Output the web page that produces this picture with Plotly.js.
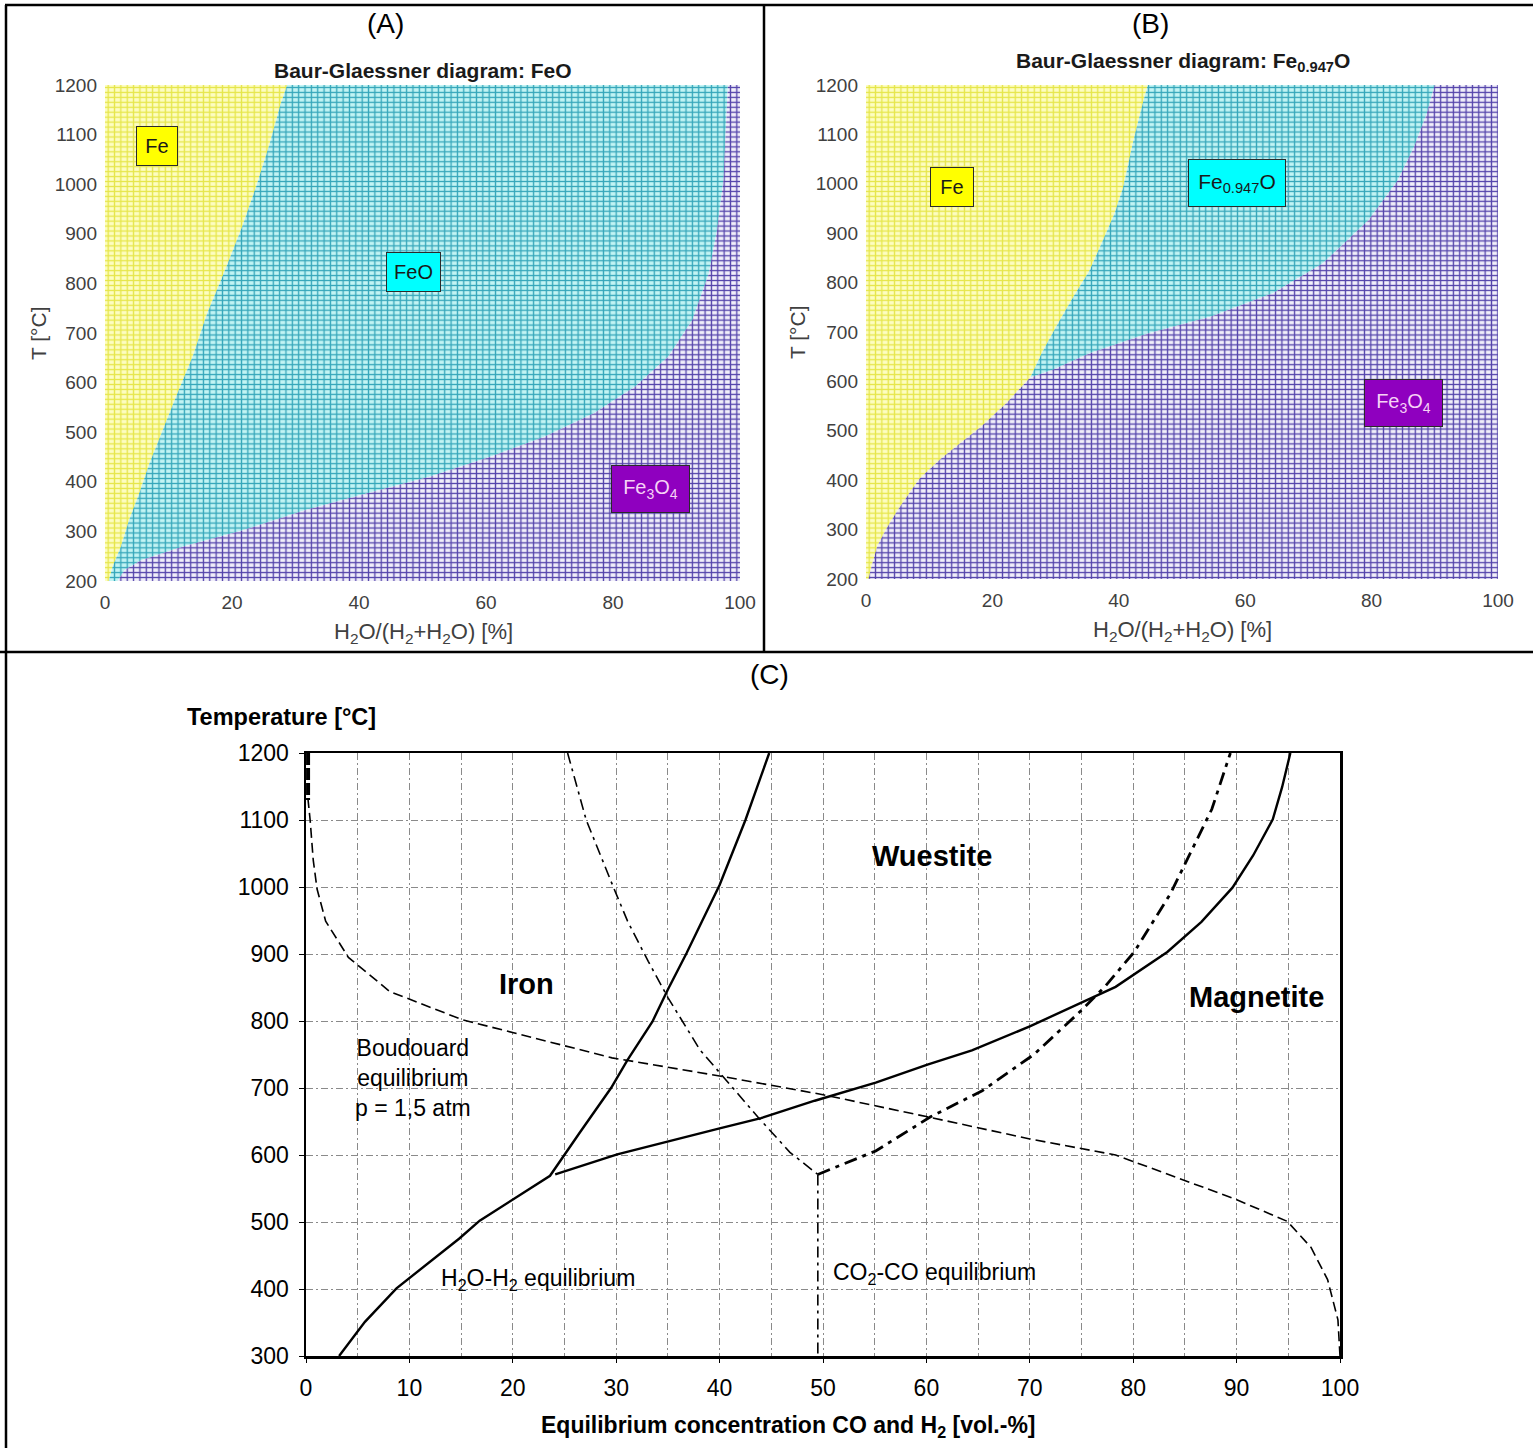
<!DOCTYPE html>
<html>
<head>
<meta charset="utf-8">
<script src="https://cdn.plot.ly/plotly-3.0.1.min.js"></script>
<style>html,body{margin:0;padding:0;background:#fff;}#chart{width:1533px;height:1448px;}</style>
</head>
<body>
<div id="chart"></div>
<script>
// ---------------- DATA ----------------
// Panel A: Baur-Glaessner diagram FeO  (x = H2O/(H2+H2O) %, y = T °C)
const A_FeFeO_x = [0.6, 1.2, 2.5, 3.8, 5.4, 7.0, 8.9, 11.2, 13.8, 16.1, 18.7, 21.6, 23.8, 25.8, 27.7, 28.7];
const A_FeFeO_T = [200, 229, 269, 323, 377, 437, 498, 572, 652, 740, 820, 914, 995, 1076, 1163, 1200];
const A_FeOMag_x = [2.0, 3.1, 5.7, 12.2, 21.9, 31.6, 41.3, 51.1, 60.8, 69.2, 77.0, 83.5, 88.7, 92.5, 95.1, 96.4, 97.4, 98.1];
const A_FeOMag_T = [200, 222, 242, 269, 303, 343, 377, 410, 451, 491, 538, 592, 652, 726, 820, 908, 1008, 1200];

// Panel B: Baur-Glaessner diagram Fe0.947O
const B_FeMag_x = [0.4, 0.9, 1.8, 3.2, 5.1, 8.4, 11.7, 15.0, 18.3, 22.2, 26.0];
const B_FeMag_T = [200, 227, 267, 301, 341, 402, 442, 476, 509, 556, 608];
const B_FeW_x = [26.0, 27.8, 30.1, 32.8, 35.4, 37.7, 39.3, 40.7, 42.3, 43.9, 44.6];
const B_FeW_T = [608, 657, 711, 771, 825, 892, 939, 993, 1087, 1168, 1200];
const B_WMag_x = [26.0, 29.5, 35.4, 44.6, 54.5, 64.3, 72.2, 79.5, 84.1, 86.7, 88.7, 90.0];
const B_WMag_T = [608, 623, 657, 697, 731, 778, 838, 926, 1006, 1074, 1141, 1200];

// Panel C: equilibrium curves (x = CO / H2 vol.-%, y = T °C)
const H2_FeWue_x = [3.2, 5.7, 8.75, 14.8, 16.8, 20.1, 23.6, 26.5, 29.5, 31.1, 33.5, 35.0, 36.8, 40.0, 42.5, 44.8];
const H2_FeWue_T = [300, 351, 401, 475, 502, 535, 569, 634, 700, 742, 799, 847, 901, 1003, 1100, 1200];
const H2_WueMag_x = [24.1, 30.1, 40.1, 44.0, 49.2, 55.1, 60.1, 64.4, 70.0, 75.0, 78.3, 83.3, 86.6, 89.6, 91.6, 93.5, 94.4, 95.2];
const H2_WueMag_T = [571, 601, 640, 655, 681, 708, 735, 756, 792, 828, 851, 903, 948, 999, 1047, 1101, 1149, 1200];
const CO_FeWue_x = [25.3, 27.1, 29.8, 31.1, 33.1, 35.0, 38.1, 40.3, 43.8, 46.8, 49.5];
const CO_FeWue_T = [1200, 1100, 997, 949, 889, 835, 757, 718, 655, 604, 571];
const CO_FeMag_x = [49.5, 49.5];
const CO_FeMag_T = [571, 300];
const CO_WueMag_x = [49.5, 55.1, 60.4, 65.4, 70.4, 75.0, 77.3, 80.1, 83.6, 85.6, 87.6, 89.4];
const CO_WueMag_T = [571, 606, 657, 696, 750, 816, 852, 903, 990, 1053, 1116, 1200];
const Boud_x = [0.2, 0.2, 0.4, 0.7, 1.07, 1.9, 4.1, 8.1, 15.1, 25.1, 29.6, 40.0, 50.0, 60.1, 70.0, 78.3, 89.9, 94.9, 97.2, 98.8, 99.8, 100];
const Boud_T = [1200, 1130, 1100, 1040, 997, 949, 895, 844, 802, 763, 745, 718, 690, 657, 624, 600, 534, 501, 462, 414, 354, 300];

const xTicksAB = [0, 20, 40, 60, 80, 100];
const yTicksAB = [200, 300, 400, 500, 600, 700, 800, 900, 1000, 1100, 1200];

// ---------------- LAYOUT HELPERS ----------------
const W = 1533, H = 1448;
const fx = p => p / W;
const fy = p => 1 - p / H;
const rev = a => a.slice().reverse();
const FONT = 'Arial, "Liberation Sans", sans-serif';

const COLS = {
  fe:  {bg: '#fdfdc2', fg: '#e6e64a'},
  wu:  {bg: '#c2f4f4', fg: '#35a6ba'},
  mag: {bg: '#f1effa', fg: '#5444ab'}
};

function region(xs, ys, col, xa, ya) {
  const base = {x: xs, y: ys, xaxis: xa, yaxis: ya, mode: 'none', fill: 'toself',
    hoverinfo: 'skip', showlegend: false};
  return [
    Object.assign({}, base, {fillpattern: {shape: '|', size: 6.35, solidity: 0.21,
      fgcolor: col.fg, bgcolor: col.bg, fillmode: 'replace'}}),
    Object.assign({}, base, {fillpattern: {shape: '-', size: 4.95, solidity: 0.27,
      fgcolor: col.fg, bgcolor: 'rgba(0,0,0,0)', fillmode: 'replace'}})
  ];
}

const traces = [];
// Panel A regions
traces.push(...region([0].concat(A_FeFeO_x, [0]), [200].concat(A_FeFeO_T, [1200]), COLS.fe, 'x', 'y'));
traces.push(...region(A_FeOMag_x.concat(rev(A_FeFeO_x)), A_FeOMag_T.concat(rev(A_FeFeO_T)), COLS.wu, 'x', 'y'));
traces.push(...region(A_FeOMag_x.concat([100, 100]), A_FeOMag_T.concat([1200, 200]), COLS.mag, 'x', 'y'));
// Panel B regions
traces.push(...region([0].concat(B_FeMag_x, B_FeW_x, [0]), [200].concat(B_FeMag_T, B_FeW_T, [1200]), COLS.fe, 'x2', 'y2'));
traces.push(...region(B_WMag_x.concat(rev(B_FeW_x)), B_WMag_T.concat(rev(B_FeW_T)), COLS.wu, 'x2', 'y2'));
traces.push(...region(B_FeMag_x.concat(B_WMag_x, [100, 100]), B_FeMag_T.concat(B_WMag_T, [1200, 200]), COLS.mag, 'x2', 'y2'));

// Panel C curves
function curve(xs, ys, width, dash) {
  return {x: xs, y: ys, xaxis: 'x3', yaxis: 'y3', mode: 'lines', hoverinfo: 'skip', showlegend: false,
    line: {color: '#000', width: width, dash: dash}};
}
traces.push(curve(Boud_x, Boud_T, 1.6, '10px,5px'));
traces.push(curve(Boud_x.slice(0, 2), Boud_T.slice(0, 2), 4, '12px,3px'));
traces.push(curve(CO_FeWue_x, CO_FeWue_T, 1.6, '11px,5px,3px,5px'));
traces.push(curve(CO_FeMag_x, CO_FeMag_T, 1.6, '11px,5px,3px,5px'));
traces.push(curve(CO_WueMag_x, CO_WueMag_T, 2.8, '13px,6px,4px,6px'));
traces.push(curve(H2_FeWue_x, H2_FeWue_T, 2.4, 'solid'));
traces.push(curve(H2_WueMag_x, H2_WueMag_T, 2.4, 'solid'));

// ---------------- AXES ----------------
const abX = (dom) => ({domain: dom, range: [0, 100], tickvals: xTicksAB, showgrid: false, zeroline: false,
  showline: false, ticks: '', tickfont: {family: FONT, size: 19, color: '#404040'}, ticklabelstandoff: 8, fixedrange: true});
const abY = (dom) => ({domain: dom, range: [200, 1200], tickvals: yTicksAB, showgrid: false, zeroline: false,
  showline: false, ticks: '', tickfont: {family: FONT, size: 19, color: '#404040'}, ticklabelstandoff: 7, fixedrange: true});

const gridDash = '7px,3px,2px,3px';
const layout = {
  width: W, height: H,
  margin: {l: 0, r: 0, t: 0, b: 0},
  paper_bgcolor: '#fff', plot_bgcolor: '#fff',
  showlegend: false,
  font: {family: FONT, color: '#000'},
  xaxis: Object.assign(abX([fx(105), fx(740)]), {anchor: 'y'}),
  yaxis: Object.assign(abY([fy(581), fy(85)]), {anchor: 'x'}),
  xaxis2: Object.assign(abX([fx(866), fx(1498)]), {anchor: 'y2'}),
  yaxis2: Object.assign(abY([fy(579), fy(85)]), {anchor: 'x2'}),
  xaxis3: {anchor: 'y3', domain: [fx(306), fx(1340)], range: [0, 100], dtick: 10, tick0: 0,
    showgrid: true, gridcolor: '#8a8a8a', gridwidth: 1, griddash: gridDash,
    minor: {dtick: 5, showgrid: true, gridcolor: '#8a8a8a', gridwidth: 1, griddash: gridDash},
    zeroline: false, showline: true, mirror: true, linecolor: '#000', linewidth: 2.5,
    ticks: 'outside', ticklen: 4, tickcolor: '#000', ticklabelstandoff: 6,
    tickfont: {family: FONT, size: 23, color: '#000'}, fixedrange: true},
  yaxis3: {anchor: 'x3', domain: [fy(1356), fy(753)], range: [300, 1200], dtick: 100,
    showgrid: true, gridcolor: '#8a8a8a', gridwidth: 1, griddash: gridDash,
    zeroline: false, showline: true, mirror: true, linecolor: '#000', linewidth: 2.5,
    ticks: 'outside', ticklen: 5, tickcolor: '#000', ticklabelstandoff: 5,
    tickfont: {family: FONT, size: 23, color: '#000'}, fixedrange: true},
  annotations: [],
  shapes: []
};

// ---------------- TEXT ----------------
function txt(x, y, text, size, opts) {
  return Object.assign({xref: 'paper', yref: 'paper', x: fx(x), y: fy(y), text: text, showarrow: false,
    xanchor: 'center', yanchor: 'middle', font: {family: FONT, size: size, color: '#000'}}, opts || {});
}
function box(x, y, text, w, h, bg, fc, size) {
  return txt(x, y, text, size, {bgcolor: bg, bordercolor: '#2a2a2a', borderwidth: 1, borderpad: 0,
    width: w, height: h, font: {family: FONT, size: size, color: fc}});
}
const ann = layout.annotations;
ann.push(txt(385, 24, '(A)', 28));
ann.push(txt(1150, 24, '(B)', 28));
ann.push(txt(769, 674, '(C)', 28));

ann.push(txt(423, 70, '<b>Baur-Glaessner diagram: FeO</b>', 21, {font: {family: FONT, size: 21, color: '#1a1a1a'}}));
ann.push(txt(1183, 62, '<b>Baur-Glaessner diagram: Fe<sub>0.947</sub>O</b>', 21, {font: {family: FONT, size: 21, color: '#1a1a1a'}}));
const xt = 'H<sub>2</sub>O/(H<sub>2</sub>+H<sub>2</sub>O) [%]';
ann.push(txt(423, 633, xt, 22, {font: {family: FONT, size: 22, color: '#404040'}}));
ann.push(txt(1182, 631, xt, 22, {font: {family: FONT, size: 22, color: '#404040'}}));
ann.push(txt(38, 333, 'T [°C]', 21, {textangle: -90, font: {family: FONT, size: 21, color: '#404040'}}));
ann.push(txt(797, 332, 'T [°C]', 21, {textangle: -90, font: {family: FONT, size: 21, color: '#404040'}}));

ann.push(box(157, 146, 'Fe', 40, 38, '#ffff00', '#1a1a1a', 20));
ann.push(box(413, 272, 'FeO', 53, 38, '#00ffff', '#1a1a1a', 20));
ann.push(box(650, 489, 'Fe<sub>3</sub>O<sub>4</sub>', 77, 46, '#8f00bf', '#f6d2f6', 20));
ann.push(box(952, 187, 'Fe', 42, 38, '#ffff00', '#1a1a1a', 20));
ann.push(box(1237, 183, 'Fe<sub>0.947</sub>O', 96, 46, '#00ffff', '#1a1a1a', 21));
ann.push(box(1403, 403, 'Fe<sub>3</sub>O<sub>4</sub>', 77, 46, '#8f00bf', '#f6d2f6', 20));

ann.push(txt(281, 717, '<b>Temperature [°C]</b>', 23.5));
ann.push(txt(788, 1426, '<b>Equilibrium concentration CO and H<sub>2</sub> [vol.-%]</b>', 23));
ann.push(txt(932, 856, '<b>Wuestite</b>', 29));
ann.push(txt(526, 984, '<b>Iron</b>', 29));
ann.push(txt(1256, 997, '<b>Magnetite</b>', 29));
ann.push(txt(413, 1078, 'Boudouard<br>equilibrium<br>p = 1,5 atm', 23, {align: 'center'}));
ann.push(txt(538, 1279, 'H<sub>2</sub>O-H<sub>2</sub> equilibrium', 23));
ann.push(txt(934, 1273, 'CO<sub>2</sub>-CO equilibrium', 23));

// ---------------- TABLE BORDERS ----------------
function seg(x0, y0, x1, y1) {
  return {type: 'line', xref: 'paper', yref: 'paper', x0: fx(x0), y0: fy(y0), x1: fx(x1), y1: fy(y1),
    line: {color: '#000', width: 2.5}, layer: 'above'};
}
layout.shapes.push(seg(5, 5, 1533, 5));
layout.shapes.push(seg(6, 5, 6, 1448));
layout.shapes.push(seg(764, 5, 764, 652));
layout.shapes.push(seg(0, 652, 1533, 652));

Plotly.newPlot('chart', traces, layout, {staticPlot: true, displayModeBar: false});
</script>
</body>
</html>
